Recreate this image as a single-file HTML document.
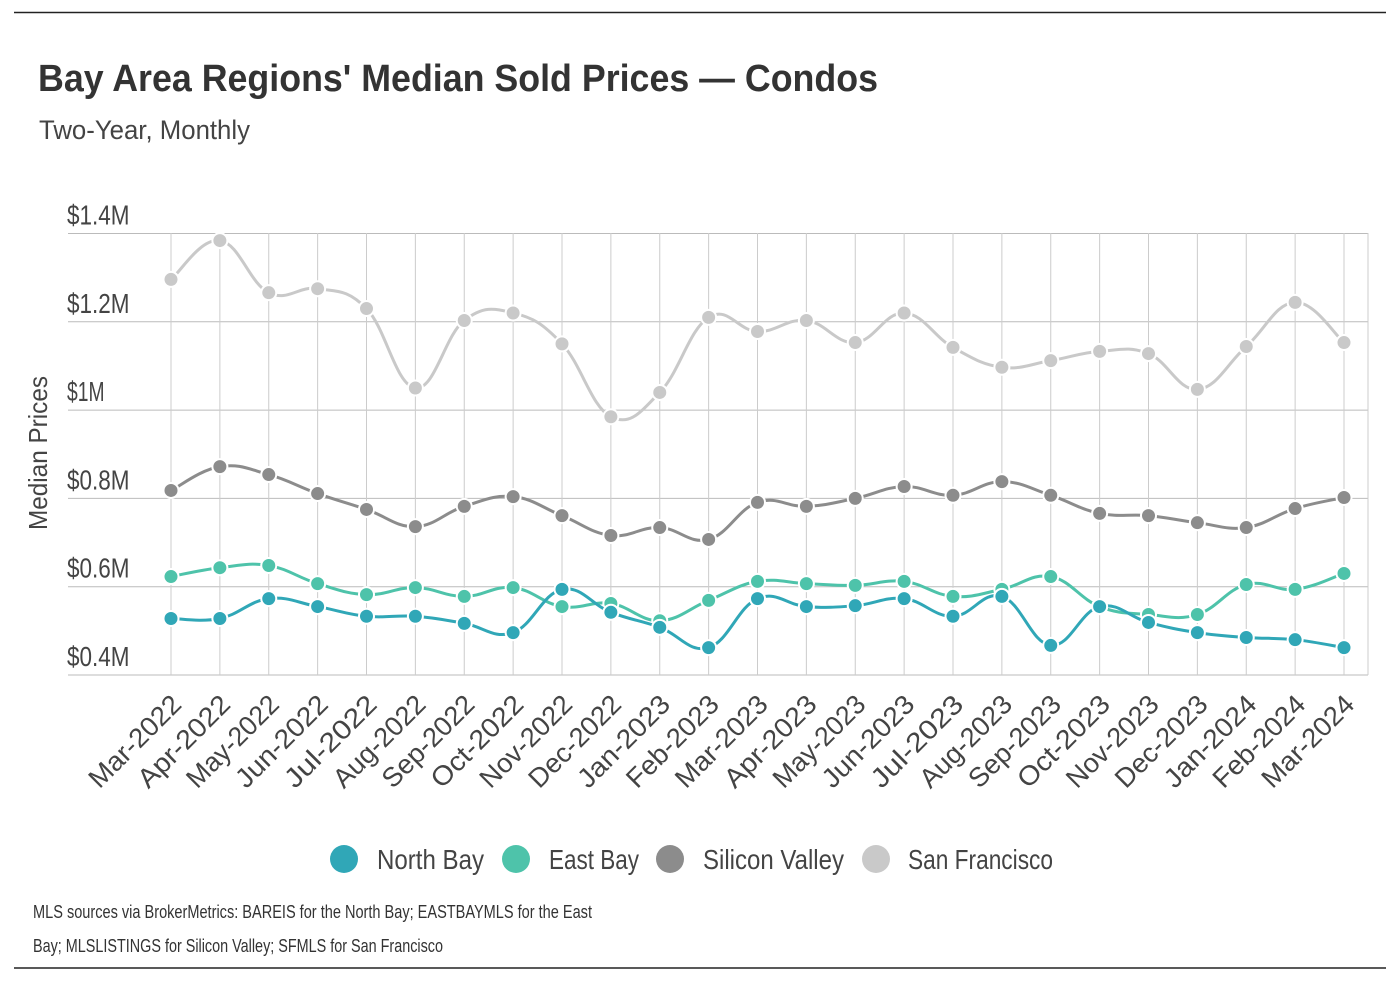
<!DOCTYPE html>
<html><head><meta charset="utf-8"><style>
body{margin:0;background:#fff;}
svg{display:block;font-family:"Liberation Sans",sans-serif;}
</style></head><body>
<svg id="chart" width="1400" height="984" viewBox="0 0 1400 984">
<line x1="14" y1="12.5" x2="1386" y2="12.5" stroke="#222" stroke-width="1.5"/>
<line x1="14" y1="968" x2="1386" y2="968" stroke="#222" stroke-width="1.5"/>
<text x="38" y="91" font-size="38" font-weight="bold" fill="#333" textLength="840" lengthAdjust="spacingAndGlyphs">Bay Area Regions' Median Sold Prices — Condos</text>
<text x="39" y="139" font-size="27" fill="#444" textLength="211" lengthAdjust="spacingAndGlyphs">Two-Year, Monthly</text>
<text transform="translate(47,453) rotate(-90)" text-anchor="middle" font-size="26" fill="#444" textLength="154" lengthAdjust="spacingAndGlyphs">Median Prices</text>
<g id="grid"></g><g id="series"></g><g id="xlabels"></g>
<g font-size="28" fill="#444">
<g><circle cx="344" cy="859" r="14" fill="#30a7b7"/><text x="377" y="869" textLength="107" lengthAdjust="spacingAndGlyphs">North Bay</text></g>
<g><circle cx="516" cy="859" r="14" fill="#4ec3aa"/><text x="549" y="869" textLength="90" lengthAdjust="spacingAndGlyphs">East Bay</text></g>
<g><circle cx="670" cy="859" r="14" fill="#8c8c8c"/><text x="703" y="869" textLength="141" lengthAdjust="spacingAndGlyphs">Silicon Valley</text></g>
<g><circle cx="876" cy="859" r="14" fill="#c9c9c9"/><text x="908" y="869" textLength="145" lengthAdjust="spacingAndGlyphs">San Francisco</text></g>
</g>
<text x="33" y="918" font-size="18" fill="#333" textLength="559" lengthAdjust="spacingAndGlyphs">MLS sources via BrokerMetrics: BAREIS for the North Bay; EASTBAYMLS for the East</text>
<text x="33" y="952" font-size="18" fill="#333" textLength="410" lengthAdjust="spacingAndGlyphs">Bay; MLSLISTINGS for Silicon Valley; SFMLS for San Francisco</text>
</svg>
<script>
const months=["Mar-2022","Apr-2022","May-2022","Jun-2022","Jul-2022","Aug-2022","Sep-2022","Oct-2022","Nov-2022","Dec-2022","Jan-2023","Feb-2023","Mar-2023","Apr-2023","May-2023","Jun-2023","Jul-2023","Aug-2023","Sep-2023","Oct-2023","Nov-2023","Dec-2023","Jan-2024","Feb-2024","Mar-2024"];
const yTicks=[0.4,0.6,0.8,1.0,1.2,1.4];
const yTickLabels=["$0.4M","$0.6M","$0.8M","$1M","$1.2M","$1.4M"];
const sanFrancisco=[1.296,1.384,1.266,1.275,1.23,1.05,1.203,1.22,1.15,0.985,1.04,1.21,1.178,1.203,1.153,1.22,1.142,1.097,1.112,1.133,1.128,1.047,1.144,1.244,1.153];
const siliconValley=[0.818,0.872,0.854,0.811,0.775,0.736,0.782,0.804,0.761,0.716,0.734,0.707,0.791,0.782,0.8,0.827,0.807,0.838,0.807,0.766,0.761,0.745,0.734,0.777,0.802];
const eastBay=[0.623,0.643,0.648,0.607,0.582,0.598,0.578,0.598,0.555,0.562,0.523,0.569,0.612,0.607,0.603,0.612,0.578,0.594,0.623,0.555,0.537,0.537,0.605,0.594,0.630];
const northBay=[0.528,0.528,0.573,0.555,0.533,0.533,0.517,0.496,0.594,0.542,0.508,0.462,0.573,0.555,0.557,0.573,0.533,0.578,0.467,0.555,0.519,0.496,0.485,0.480,0.462];
const NS="http://www.w3.org/2000/svg";
const x0=171,dx=(1344-171)/24;
function X(i){return x0+i*dx;}
function Y(v){return 675-(v-0.4)/0.2*88.3;}
function mk(t,a,p){const e=document.createElementNS(NS,t);for(const k in a)e.setAttribute(k,a[k]);p.appendChild(e);return e;}
const grid=document.getElementById('grid');
yTicks.forEach((t,i)=>{
  const l=mk('line',{x1:68,x2:1368,y1:Y(t),y2:Y(t),stroke:'#bbb','stroke-width':1},grid);
  
  
  const tx=mk('text',{x:67,y:Y(t)-9,'font-size':28,fill:'#444',textLength:yTickLabels[i].length*12.5,lengthAdjust:'spacingAndGlyphs'},grid);
  tx.textContent=yTickLabels[i];
  
  
});
months.forEach((m,i)=>{
  const l=mk('line',{x1:X(i),x2:X(i),y1:233,y2:675,stroke:'#ccc','stroke-width':1},grid);
  
  
  const tx=mk('text',{transform:`translate(${X(i)+12},${706}) rotate(-45)`,'text-anchor':'end','font-size':27,fill:'#444',textLength:118,lengthAdjust:'spacingAndGlyphs'},document.getElementById('xlabels'));
  tx.textContent=m;
  
  
});
mk('line',{x1:1368,x2:1368,y1:233,y2:675,stroke:'#ccc'},grid);
function path(vals){
  const p=vals.map((v,i)=>[X(i),Y(v)]);
  let d=`M${p[0][0]},${p[0][1]}`;
  for(let i=0;i<p.length-1;i++){
    const a=p[i-1]||p[i],b=p[i],c=p[i+1],e=p[i+2]||c,t=0.2;
    d+=` C${b[0]+(c[0]-a[0])*t},${b[1]+(c[1]-a[1])*t} ${c[0]-(e[0]-b[0])*t},${c[1]-(e[1]-b[1])*t} ${c[0]},${c[1]}`;
  }
  return d;
}
const ser=document.getElementById('series');
[[sanFrancisco,'#c9c9c9','san-francisco'],[siliconValley,'#8c8c8c','silicon-valley'],[eastBay,'#4ec3aa','east-bay'],[northBay,'#30a7b7','north-bay']].forEach(([vals,col,name])=>{
  const g=mk('g',{},ser);
  
  
  mk('path',{d:path(vals),fill:'none',stroke:col,'stroke-width':3},g);
  vals.forEach((v,i)=>{
    const c=mk('circle',{cx:X(i),cy:Y(v),r:7.5,fill:col,stroke:'#fff','stroke-width':2},g);
    
    
  });
});
</script>
</body></html>
